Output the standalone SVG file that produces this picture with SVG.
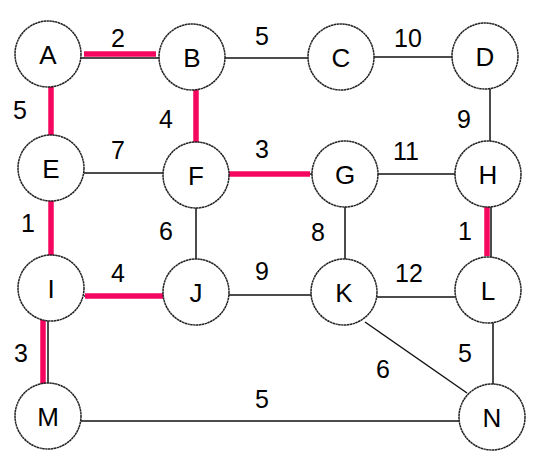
<svg xmlns="http://www.w3.org/2000/svg" width="540" height="461" viewBox="0 0 540 461">
<style>
.e{stroke:#111;stroke-width:1.5;fill:none}
.p{stroke:#f5075f;stroke-width:5.5;fill:none}
.n circle{fill:#fff;stroke:#222;stroke-width:1.5;stroke-dasharray:2.5 0.4}
text{font-family:"Liberation Sans",Arial,sans-serif;font-size:25px;fill:#000;text-anchor:middle}
.n text{font-size:26px}
</style>
<rect width="540" height="461" fill="#fff"/>
<g id="connectors">
<line class="e" x1="81" y1="58" x2="160" y2="58"/>
<line class="e" x1="225" y1="58" x2="308" y2="58"/>
<line class="e" x1="374" y1="57" x2="452" y2="57"/>
<line class="e" x1="490" y1="89" x2="490" y2="141"/>
<line class="e" x1="84" y1="173" x2="163" y2="173"/>
<line class="e" x1="229" y1="174" x2="312" y2="174"/>
<line class="e" x1="378" y1="174" x2="455" y2="174"/>
<line class="e" x1="196" y1="208" x2="196" y2="259"/>
<line class="e" x1="345" y1="207" x2="345" y2="259"/>
<line class="e" x1="491" y1="207" x2="491" y2="257"/>
<line class="e" x1="229" y1="295" x2="311" y2="295"/>
<line class="e" x1="377" y1="297" x2="455" y2="297"/>
<line class="e" x1="365" y1="322" x2="467" y2="393"/>
<line class="e" x1="493" y1="323" x2="493" y2="384"/>
<line class="e" x1="48" y1="321" x2="48" y2="383"/>
<line class="e" x1="81" y1="421" x2="459" y2="421"/>
<line class="e" x1="51" y1="87" x2="51" y2="135"/>
<line class="e" x1="196" y1="90" x2="196" y2="142"/>
<line class="e" x1="51" y1="201" x2="51" y2="255"/>
<line class="e" x1="84" y1="296" x2="163" y2="296"/>
<line class="p" x1="84" y1="54" x2="156" y2="54"/>
<line class="p" x1="51" y1="86" x2="51" y2="135"/>
<line class="p" x1="196" y1="86" x2="196" y2="143"/>
<line class="p" x1="229" y1="174" x2="310" y2="174"/>
<line class="p" x1="51" y1="199" x2="51" y2="256"/>
<line class="p" x1="487" y1="207" x2="487" y2="256"/>
<line class="p" x1="85" y1="296" x2="163" y2="296"/>
<line class="p" x1="43" y1="319" x2="43" y2="385"/>
</g>
<g id="labels">
<text x="118" y="47">2</text>
<text x="262" y="45">5</text>
<text x="408" y="47">10</text>
<text x="20" y="119">5</text>
<text x="166" y="128">4</text>
<text x="464" y="128">9</text>
<text x="118" y="159">7</text>
<text x="262" y="158">3</text>
<text x="406" y="160">11</text>
<text x="28" y="232">1</text>
<text x="166" y="240">6</text>
<text x="318" y="241">8</text>
<text x="465" y="240">1</text>
<text x="118" y="282">4</text>
<text x="262" y="280">9</text>
<text x="409" y="282">12</text>
<text x="21" y="362">3</text>
<text x="465" y="362">5</text>
<text x="383" y="378">6</text>
<text x="262" y="408">5</text>
</g>
<g id="node-A" class="n"><circle cx="48" cy="54" r="33"/><text x="48" y="63.5">A</text></g>
<g id="node-B" class="n"><circle cx="192" cy="57" r="33"/><text x="192" y="66.5">B</text></g>
<g id="node-C" class="n"><circle cx="341" cy="57" r="33"/><text x="341" y="66.5">C</text></g>
<g id="node-D" class="n"><circle cx="485" cy="56" r="33"/><text x="485" y="65.5">D</text></g>
<g id="node-E" class="n"><circle cx="51" cy="168" r="33"/><text x="51" y="177.5">E</text></g>
<g id="node-F" class="n"><circle cx="196" cy="175" r="33"/><text x="196" y="184.5">F</text></g>
<g id="node-G" class="n"><circle cx="345" cy="174" r="33"/><text x="345" y="183.5">G</text></g>
<g id="node-H" class="n"><circle cx="488" cy="174" r="33"/><text x="488" y="183.5">H</text></g>
<g id="node-I" class="n"><circle cx="51" cy="288" r="33"/><text x="51" y="297.5">I</text></g>
<g id="node-J" class="n"><circle cx="196" cy="292" r="33"/><text x="196" y="301.5">J</text></g>
<g id="node-K" class="n"><circle cx="344" cy="292" r="33"/><text x="344" y="301.5">K</text></g>
<g id="node-L" class="n"><circle cx="488" cy="290" r="33"/><text x="488" y="299.5">L</text></g>
<g id="node-M" class="n"><circle cx="48" cy="416" r="33"/><text x="48" y="425.5">M</text></g>
<g id="node-N" class="n"><circle cx="492" cy="417" r="33"/><text x="492" y="426.5">N</text></g>
</svg>
